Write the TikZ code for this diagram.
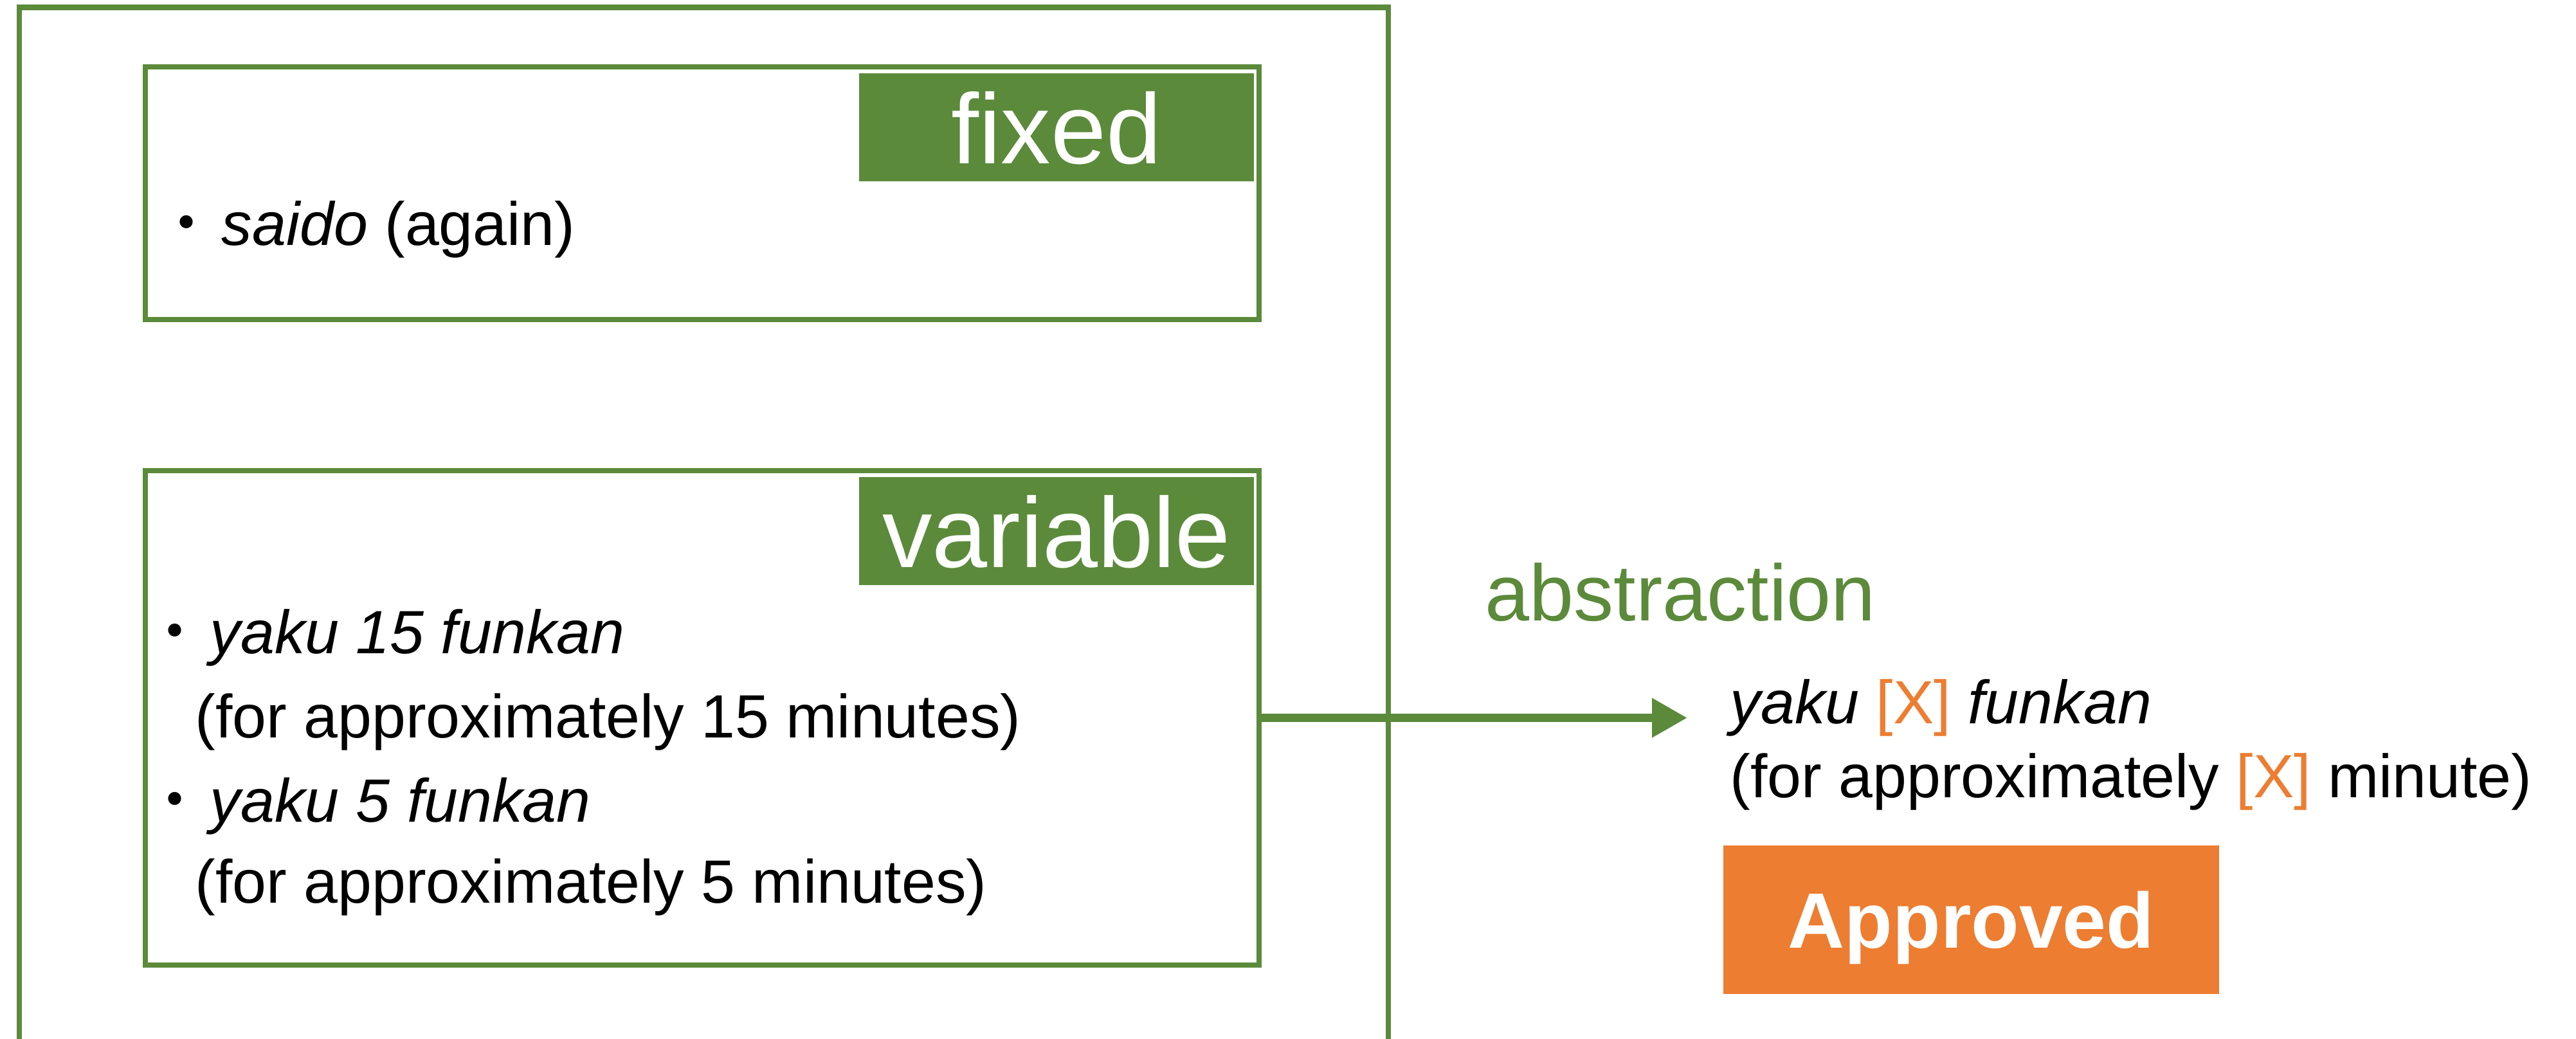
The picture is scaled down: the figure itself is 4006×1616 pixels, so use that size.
\documentclass[tikz,border=0pt]{standalone}
\usepackage{fontspec}
\setmainfont{Liberation Sans}
\newfontfamily\cjk{Noto Sans CJK JP}
\usetikzlibrary{arrows.meta}
\definecolor{leaf}{HTML}{5B8A3B}
\definecolor{amber}{HTML}{ED7D31}
\newcommand\xslot{\textcolor{amber}{[X]}}
\newcommand\xdot{{\cjk ・}\kern0.07cm}

\begin{document}
\begin{tikzpicture}[x=0.01cm, y=-0.01cm,
  frame/.style={draw=leaf, line width=0.085cm},
  panel/.style={draw=leaf, line width=0.085cm, inner sep=0pt, minimum width=17.31cm},
  tag/.style={fill=leaf, text=white, inner sep=0pt, minimum width=6.14cm,
    minimum height=1.68cm, text depth=0pt, font=\fontsize{44pt}{52pt}\selectfont},
  body/.style={inner sep=0pt, anchor=base west, font=\fontsize{27.03pt}{32pt}\selectfont},
  note/.style={inner sep=0pt, anchor=base west, text=leaf, font=\fontsize{35.3pt}{42pt}\selectfont},
  stamp/.style={fill=amber, text=white, inner sep=0pt, minimum width=7.71cm,
    minimum height=2.31cm, text depth=0pt, font=\fontsize{34.7pt}{42pt}\selectfont\bfseries},
  link/.style={draw=leaf, line width=0.135cm, -{Triangle[length=0.55cm, width=0.58cm]}},
]
\useasboundingbox[fill=white] (0,0) rectangle (4006,1616);

% outer frame, open at the bottom edge
\draw[frame] (30,1616) -- (30,11.5) -- (2159,11.5) -- (2159,1616);

% fixed part
\node[panel, minimum height=3.925cm] (fixed) at (1092,300.5) {};
\node[tag] (fixedtag) at (1643,198) {fixed};
\node[body] (saido) at (242,382) {\xdot\textit{saido} (again)};

% variable part
\node[panel, minimum height=7.69cm] (var) at (1092,1116.5) {};
\node[tag] (vartag) at (1643,826) {variable};
\node[body] (v1) at (224,1016) {\xdot\textit{yaku 15 funkan}};
\node[body] (v1gloss) at (303,1147) {(for approximately 15 minutes)};
\node[body] (v2) at (224,1278) {\xdot\textit{yaku 5 funkan}};
\node[body] (v2gloss) at (303,1404) {(for approximately 5 minutes)};

% abstraction result
\coordinate (tip) at (2624,1116.5);
\draw[link] (var.east) -- (tip);
\node[note] (abs) at (2309,965) {abstraction};
\node[body] (pattern) at (2690,1125) {\textit{yaku} \xslot{} \textit{funkan}};
\node[body] (gloss) at (2690,1240) {(for approximately \xslot{} minute)};
\node[stamp] (ok) at (3065.5,1430.5) {Approved};
\end{tikzpicture}
\end{document}
